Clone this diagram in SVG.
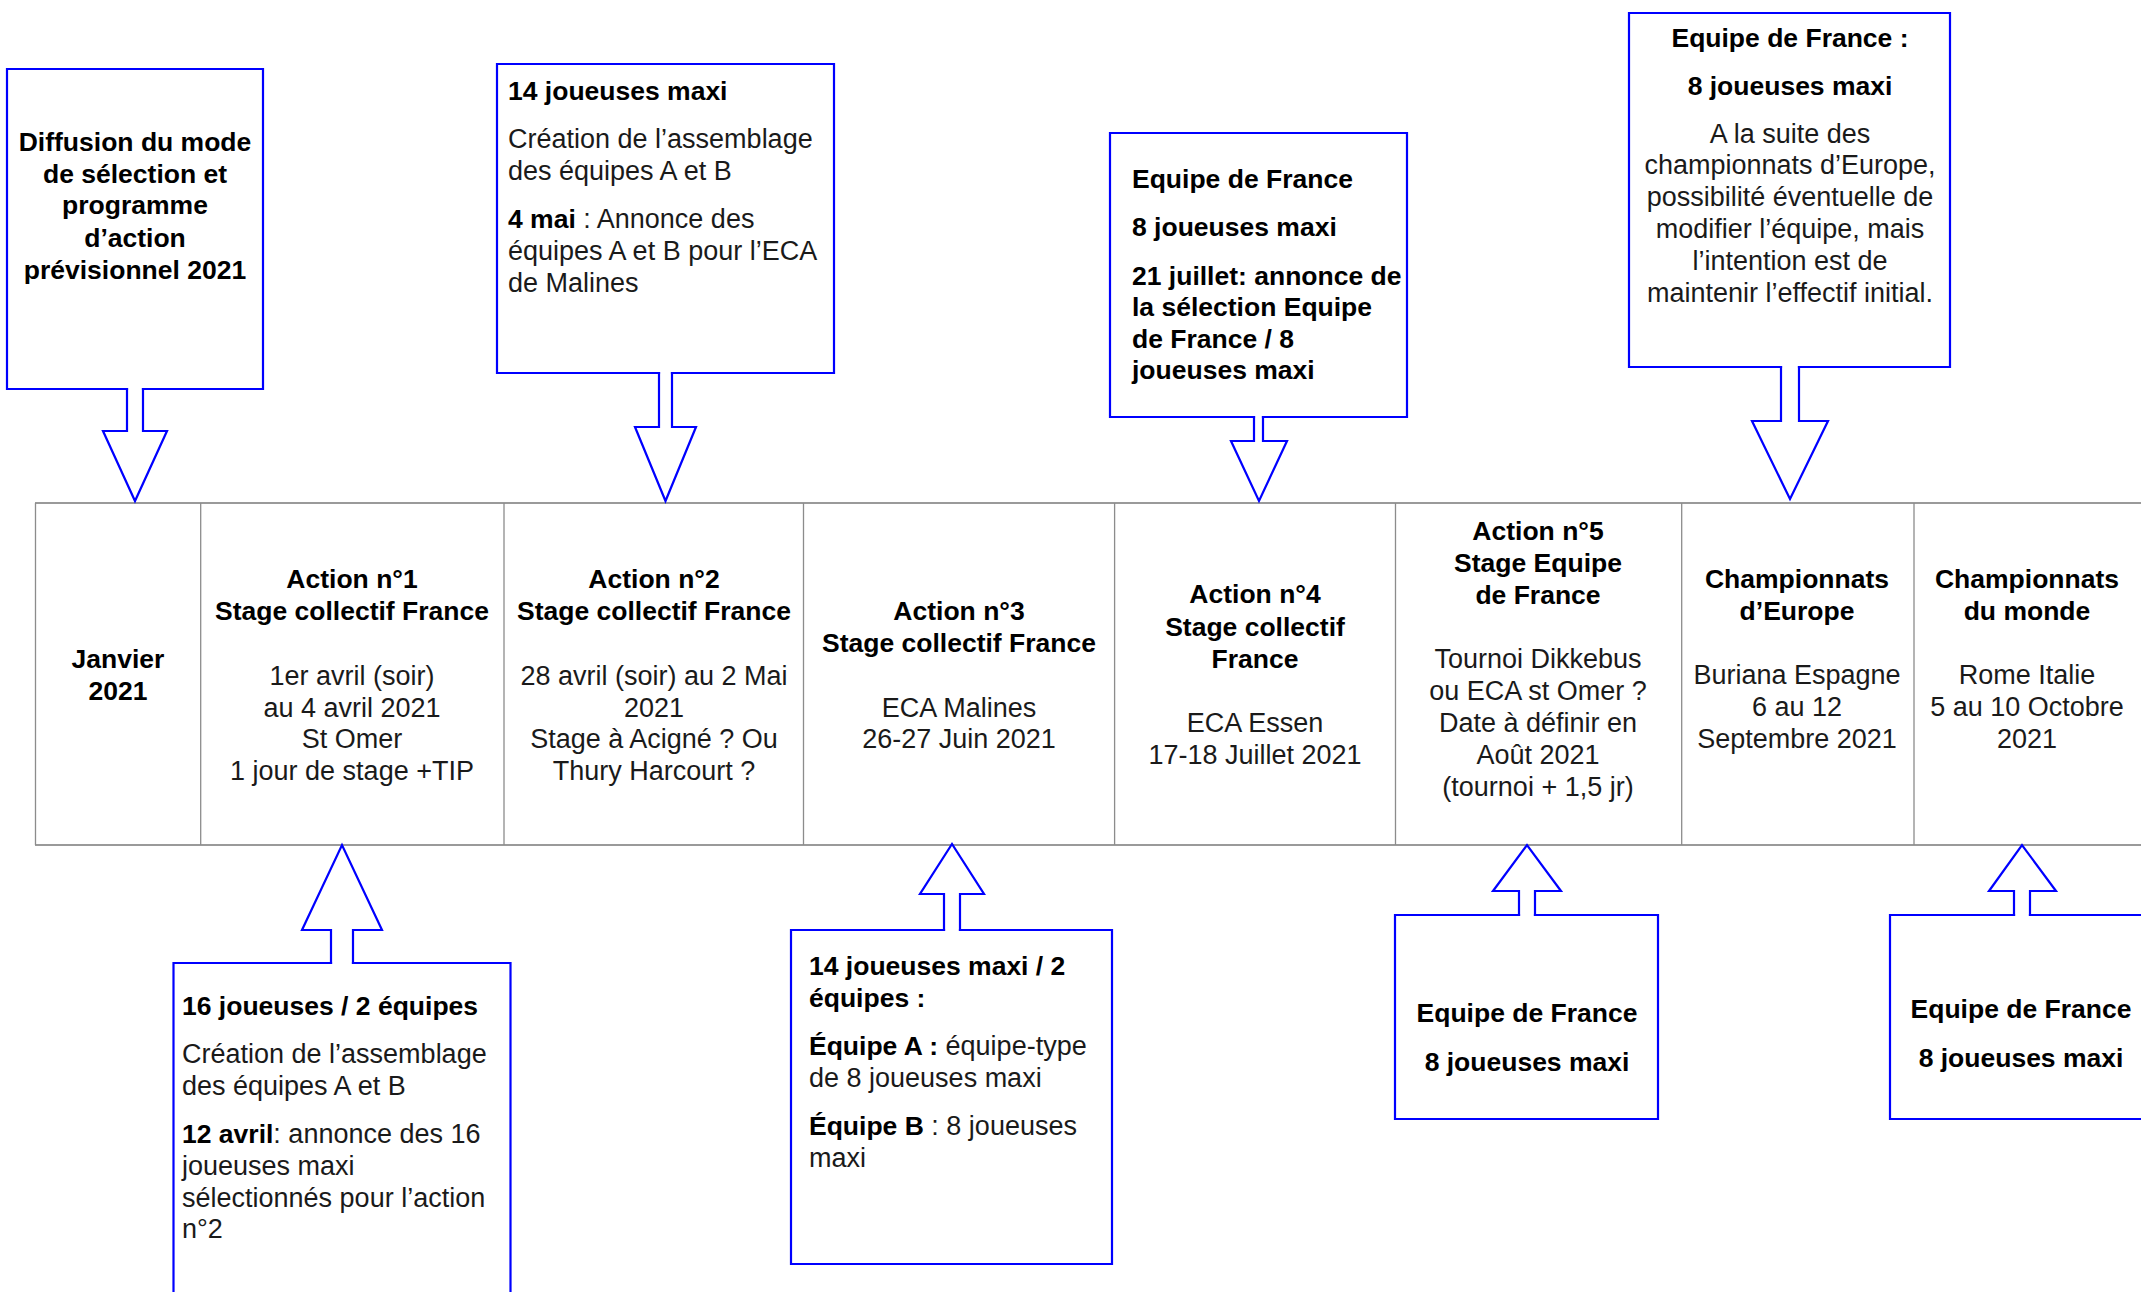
<svg xmlns="http://www.w3.org/2000/svg" width="2141" height="1292" viewBox="0 0 2141 1292">
<style>
text{font-family:"Liberation Sans",Arial,sans-serif;font-size:27px;fill:#1a1a1a}
.b{font-weight:bold;font-size:26.5px;fill:#000}
.c{text-anchor:middle}
.box{fill:none;stroke:#0000ff;stroke-width:2.2;stroke-linecap:square;stroke-linejoin:miter}
.hl{stroke:#9a9a9a;stroke-width:2.2}
.vl{stroke:#8c8c8c;stroke-width:1.3}
</style>
<rect width="2141" height="1292" fill="#fff"/>
<g id="timeline">
<line class="hl" x1="35" y1="503" x2="2141" y2="503"/>
<line class="hl" x1="35" y1="845" x2="2141" y2="845"/>
<line class="vl" x1="35.5" y1="503" x2="35.5" y2="845"/>
<line class="vl" x1="200.7" y1="503" x2="200.7" y2="845"/>
<line class="vl" x1="504" y1="503" x2="504" y2="845"/>
<line class="vl" x1="803.5" y1="503" x2="803.5" y2="845"/>
<line class="vl" x1="1114.6" y1="503" x2="1114.6" y2="845"/>
<line class="vl" x1="1395.5" y1="503" x2="1395.5" y2="845"/>
<line class="vl" x1="1681.7" y1="503" x2="1681.7" y2="845"/>
<line class="vl" x1="1914" y1="503" x2="1914" y2="845"/>
</g>
<g id="col-janvier" class="c">
<text class="b c" x="118" y="668">Janvier</text>
<text class="b c" x="118" y="700">2021</text>
</g>
<g id="col-action1">
<text class="b c" x="352" y="588">Action n°1</text>
<text class="b c" x="352" y="620">Stage collectif France</text>
<text class="c" x="352" y="685">1er avril (soir)</text>
<text class="c" x="352" y="717">au 4 avril 2021</text>
<text class="c" x="352" y="748">St Omer</text>
<text class="c" x="352" y="780">1 jour de stage +TIP</text>
</g>
<g id="col-action2">
<text class="b c" x="654" y="588">Action n°2</text>
<text class="b c" x="654" y="620">Stage collectif France</text>
<text class="c" x="654" y="685">28 avril (soir) au 2 Mai</text>
<text class="c" x="654" y="717">2021</text>
<text class="c" x="654" y="748">Stage à Acigné ? Ou</text>
<text class="c" x="654" y="780">Thury Harcourt ?</text>
</g>
<g id="col-action3">
<text class="b c" x="959" y="620">Action n°3</text>
<text class="b c" x="959" y="652">Stage collectif France</text>
<text class="c" x="959" y="717">ECA Malines</text>
<text class="c" x="959" y="748">26-27 Juin 2021</text>
</g>
<g id="col-action4">
<text class="b c" x="1255" y="603">Action n°4</text>
<text class="b c" x="1255" y="636">Stage collectif</text>
<text class="b c" x="1255" y="668">France</text>
<text class="c" x="1255" y="732">ECA Essen</text>
<text class="c" x="1255" y="764">17-18 Juillet 2021</text>
</g>
<g id="col-action5">
<text class="b c" x="1538" y="540">Action n°5</text>
<text class="b c" x="1538" y="572">Stage Equipe</text>
<text class="b c" x="1538" y="604">de France</text>
<text class="c" x="1538" y="668">Tournoi Dikkebus</text>
<text class="c" x="1538" y="700">ou ECA st Omer ?</text>
<text class="c" x="1538" y="732">Date à définir en</text>
<text class="c" x="1538" y="764">Août 2021</text>
<text class="c" x="1538" y="796">(tournoi + 1,5 jr)</text>
</g>
<g id="col-europe">
<text class="b c" x="1797" y="588">Championnats</text>
<text class="b c" x="1797" y="620">d’Europe</text>
<text class="c" x="1797" y="684">Buriana Espagne</text>
<text class="c" x="1797" y="716">6 au 12</text>
<text class="c" x="1797" y="748">Septembre 2021</text>
</g>
<g id="col-monde">
<text class="b c" x="2027" y="588">Championnats</text>
<text class="b c" x="2027" y="620">du monde</text>
<text class="c" x="2027" y="684">Rome Italie</text>
<text class="c" x="2027" y="716">5 au 10 Octobre</text>
<text class="c" x="2027" y="748">2021</text>
</g>
<g id="connectors">
<path class="box" d="M127,389 V431 H103 L135,501 L167,431 H143 V389"/>
<path class="box" d="M659,373 V427 H635 L665.5,501 L696,427 H672 V373"/>
<path class="box" d="M1254,417 V441 H1231 L1259,501 L1287,441 H1263 V417"/>
<path class="box" d="M1781,367 V421 H1752 L1790,499 L1828,421 H1799 V367"/>
<path class="box" d="M331,963 V930 H302 L342,845 L382,930 H353 V963"/>
<path class="box" d="M944,930 V894 H920 L952,844 L984,894 H960 V930"/>
<path class="box" d="M1519,915 V891 H1493 L1527,845 L1561,891 H1535 V915"/>
<path class="box" d="M2014,915 V891 H1989 L2022,845 L2056,891 H2030 V915"/>
</g>
<g id="callout-diffusion">
<path class="box" d="M127,389 H7 V69 H263 V389 H143"/>
<text class="b c" x="135" y="151">Diffusion du mode</text>
<text class="b c" x="135" y="183">de sélection et</text>
<text class="b c" x="135" y="214">programme</text>
<text class="b c" x="135" y="247">d’action</text>
<text class="b c" x="135" y="279">prévisionnel 2021</text>
</g>
<g id="callout-14-joueuses">
<path class="box" d="M659,373 H497 V64 H834 V373 H672"/>
<text class="b" x="508" y="100">14 joueuses maxi</text>
<text x="508" y="148">Création de l’assemblage</text>
<text x="508" y="180">des équipes A et B</text>
<text x="508" y="228"><tspan class="b">4 mai</tspan> : Annonce des</text>
<text x="508" y="260">équipes A et B pour l’ECA</text>
<text x="508" y="292">de Malines</text>
</g>
<g id="callout-21-juillet">
<path class="box" d="M1254,417 H1110 V133 H1407 V417 H1263"/>
<text class="b" x="1132" y="188">Equipe de France</text>
<text class="b" x="1132" y="236">8 joueuses maxi</text>
<text class="b" x="1132" y="285">21 juillet: annonce de</text>
<text class="b" x="1132" y="316">la sélection Equipe</text>
<text class="b" x="1132" y="348">de France / 8</text>
<text class="b" x="1132" y="379">joueuses maxi</text>
</g>
<g id="callout-europe">
<path class="box" d="M1781,367 H1629 V13 H1950 V367 H1799"/>
<text class="b c" x="1790" y="47">Equipe de France :</text>
<text class="b c" x="1790" y="95">8 joueuses maxi</text>
<text class="c" x="1790" y="143">A la suite des</text>
<text class="c" x="1790" y="174">championnats d’Europe,</text>
<text class="c" x="1790" y="206">possibilité éventuelle de</text>
<text class="c" x="1790" y="238">modifier l’équipe, mais</text>
<text class="c" x="1790" y="270">l’intention est de</text>
<text class="c" x="1790" y="302">maintenir l’effectif initial.</text>
</g>
<g id="callout-16-joueuses">
<path class="box" d="M331,963 H173.5 V1300 M510.5,1300 V963 H353"/>
<text class="b" x="182" y="1015">16 joueuses / 2 équipes</text>
<text x="182" y="1063">Création de l’assemblage</text>
<text x="182" y="1095">des équipes A et B</text>
<text x="182" y="1143"><tspan class="b">12 avril</tspan>: annonce des 16</text>
<text x="182" y="1175">joueuses maxi</text>
<text x="182" y="1207">sélectionnés pour l’action</text>
<text x="182" y="1238">n°2</text>
</g>
<g id="callout-equipes-ab">
<path class="box" d="M944,930 H791 V1264 H1112 V930 H960"/>
<text class="b" x="809" y="975">14 joueuses maxi / 2</text>
<text class="b" x="809" y="1007">équipes :</text>
<text x="809" y="1055"><tspan class="b">Équipe A :</tspan> équipe-type</text>
<text x="809" y="1087">de 8 joueuses maxi</text>
<text x="809" y="1135"><tspan class="b">Équipe B</tspan> : 8 joueuses</text>
<text x="809" y="1167">maxi</text>
</g>
<g id="callout-action5">
<path class="box" d="M1519,915 H1395 V1119 H1658 V915 H1535"/>
<text class="b c" x="1527" y="1022">Equipe de France</text>
<text class="b c" x="1527" y="1071">8 joueuses maxi</text>
</g>
<g id="callout-monde">
<path class="box" d="M2014,915 H1890 V1119 H2150 M2150,915 H2030"/>
<text class="b c" x="2021" y="1018">Equipe de France</text>
<text class="b c" x="2021" y="1067">8 joueuses maxi</text>
</g>
</svg>
